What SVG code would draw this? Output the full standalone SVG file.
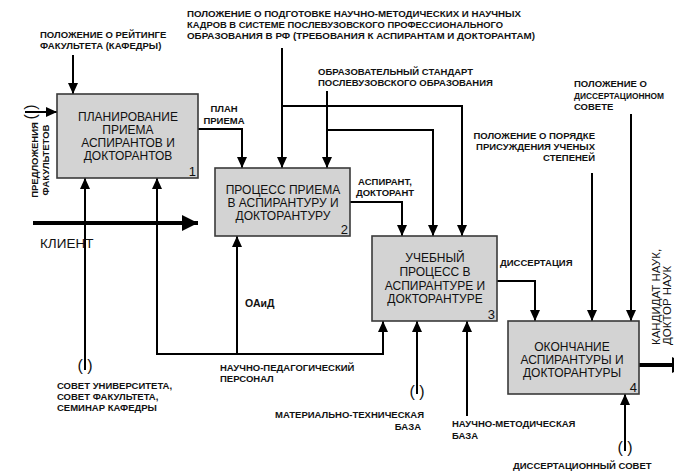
<svg xmlns="http://www.w3.org/2000/svg" width="674" height="473" viewBox="0 0 674 473">
<defs>
<marker id="ah" markerUnits="userSpaceOnUse" markerWidth="11" markerHeight="10" refX="11" refY="5" orient="auto"><path d="M0,0 L11,5 L0,10 z" fill="#000"/></marker>
<marker id="ahb" markerUnits="userSpaceOnUse" markerWidth="16" markerHeight="16" refX="16" refY="8" orient="auto"><path d="M0,0 L16,8 L0,16 z" fill="#000"/></marker>
<style>
.box{fill:#d3d3d3;stroke:#3a3a3a;stroke-width:1.6}
.bt{font-family:"Liberation Sans",Arial,sans-serif;font-size:12px;fill:#111;text-anchor:middle}
.num{font-family:"Liberation Sans",Arial,sans-serif;font-size:13px;fill:#111;text-anchor:end}
.lb{font-family:"Liberation Sans",Arial,sans-serif;font-size:9.5px;font-weight:bold;fill:#111}
.lb.sm{font-size:8.4px}
.lr{font-family:"Liberation Sans",Arial,sans-serif;fill:#111}
.tn{font-family:"Liberation Sans",Arial,sans-serif;font-size:16px;fill:#111;text-anchor:middle}
.w{fill:none;stroke:#000;stroke-width:2}
.wt{fill:none;stroke:#000;stroke-width:4}
</style>
</defs>
<rect width="674" height="473" fill="#fff"/>

<g id="connectors">
<path class="w" d="M73,55 V94" marker-end="url(#ah)"/>
<path class="w" d="M25,112 H57" marker-end="url(#ah)"/>
<path class="w" d="M198,129 H242 V168" marker-end="url(#ah)"/>
<path class="w" d="M282,48 V168" marker-end="url(#ah)"/>
<path class="w" d="M282,106 H462 V236" marker-end="url(#ah)"/>
<path class="w" d="M327,91 V168" marker-end="url(#ah)"/>
<path class="w" d="M327,130 H433 V236" marker-end="url(#ah)"/>
<path class="w" d="M350,202 H402 V236" marker-end="url(#ah)"/>
<path class="w" d="M497,281 H535 V321" marker-end="url(#ah)"/>
<path class="w" d="M592,173 V321" marker-end="url(#ah)"/>
<path class="w" d="M631,114 V321" marker-end="url(#ah)"/>
<path class="wt" d="M639,365 H688" marker-end="url(#ahb)"/>
<path class="wt" d="M33,223 H198" marker-end="url(#ahb)"/>
<path class="w" d="M85,370 V178" marker-end="url(#ah)"/>
<path class="w" d="M237,354 H157 V178" marker-end="url(#ah)"/>
<path class="w" d="M237,354 V236" marker-end="url(#ah)"/>
<path class="w" d="M237,354 H383 V321" marker-end="url(#ah)"/>
<path class="w" d="M417,394 V321" marker-end="url(#ah)"/>
<path class="w" d="M467,416 V321" marker-end="url(#ah)"/>
<path class="w" d="M625,451 V394" marker-end="url(#ah)"/>
</g>

<g id="tunnels">
<text class="tn" transform="translate(31,112) rotate(-90)" y="5">( )</text>
<text class="tn" x="85" y="371">( )</text>
<text class="tn" x="417" y="397">( )</text>
<text class="tn" x="625" y="453">( )</text>
</g>

<g id="n1">
<rect class="box" x="57" y="94" width="141" height="84"/>
<text class="bt" x="128" y="121">ПЛАНИРОВАНИЕ</text>
<text class="bt" x="128" y="134">ПРИЕМА</text>
<text class="bt" x="128" y="147">АСПИРАНТОВ И</text>
<text class="bt" x="128" y="160">ДОКТОРАНТОВ</text>
<text class="num" x="196" y="176">1</text>
</g>
<g id="n2">
<rect class="box" x="215" y="168" width="135" height="68"/>
<text class="bt" x="283" y="194">ПРОЦЕСС ПРИЕМА</text>
<text class="bt" x="283" y="207">В АСПИРАНТУРУ И</text>
<text class="bt" x="283" y="220">ДОКТОРАНТУРУ</text>
<text class="num" x="348" y="234">2</text>
</g>
<g id="n3">
<rect class="box" x="372" y="236" width="125" height="85"/>
<text class="bt" x="435" y="262">УЧЕБНЫЙ</text>
<text class="bt" x="435" y="276">ПРОЦЕСС В</text>
<text class="bt" x="435" y="290">АСПИРАНТУРЕ И</text>
<text class="bt" x="435" y="303">ДОКТОРАНТУРЕ</text>
<text class="num" x="495" y="319">3</text>
</g>
<g id="n4">
<rect class="box" x="508" y="321" width="131" height="73"/>
<text class="bt" x="572" y="351">ОКОНЧАНИЕ</text>
<text class="bt" x="572" y="364">АСПИРАНТУРЫ И</text>
<text class="bt" x="572" y="377">ДОКТОРАНТУРЫ</text>
<text class="num" x="637" y="392">4</text>
</g>

<g id="labels">
<text class="lb" x="40" y="38">ПОЛОЖЕНИЕ О РЕЙТИНГЕ</text>
<text class="lb" x="40" y="49">ФАКУЛЬТЕТА (КАФЕДРЫ)</text>
<text class="lb" x="187" y="17" textLength="334" lengthAdjust="spacingAndGlyphs">ПОЛОЖЕНИЕ О ПОДГОТОВКЕ НАУЧНО-МЕТОДИЧЕСКИХ И НАУЧНЫХ</text>
<text class="lb" x="187" y="28" textLength="316" lengthAdjust="spacingAndGlyphs">КАДРОВ В СИСТЕМЕ ПОСЛЕВУЗОВСКОГО ПРОФЕССИОНАЛЬНОГО</text>
<text class="lb" x="187" y="39" textLength="348" lengthAdjust="spacingAndGlyphs">ОБРАЗОВАНИЯ В РФ (ТРЕБОВАНИЯ К АСПИРАНТАМ И ДОКТОРАНТАМ)</text>
<text class="lb" x="318" y="75">ОБРАЗОВАТЕЛЬНЫЙ СТАНДАРТ</text>
<text class="lb" x="318" y="86">ПОСЛЕВУЗОВСКОГО ОБРАЗОВАНИЯ</text>
<text class="lb" x="224" y="112" text-anchor="middle">ПЛАН</text>
<text class="lb" x="224" y="124" text-anchor="middle">ПРИЕМА</text>
<text class="lb" x="385" y="185" text-anchor="middle">АСПИРАНТ,</text>
<text class="lb" x="385" y="196" text-anchor="middle">ДОКТОРАНТ</text>
<text class="lb" x="500" y="266">ДИССЕРТАЦИЯ</text>
<text class="lb" x="595" y="139" text-anchor="end">ПОЛОЖЕНИЕ О ПОРЯДКЕ</text>
<text class="lb" x="595" y="150" text-anchor="end">ПРИСУЖДЕНИЯ УЧЕНЫХ</text>
<text class="lb" x="595" y="161" text-anchor="end">СТЕПЕНЕЙ</text>
<text class="lb" x="574" y="87">ПОЛОЖЕНИЕ О</text>
<text class="lb sm" x="574" y="99">ДИССЕРТАЦИОННОМ</text>
<text class="lb" x="574" y="110">СОВЕТЕ</text>
<text class="lr" x="40" y="248" font-size="13.5">КЛИЕНТ</text>
<text class="lr" x="245" y="307" font-size="10.5" font-weight="bold">ОАиД</text>
<text class="lb" x="220" y="371">НАУЧНО-ПЕДАГОГИЧЕСКИЙ</text>
<text class="lb" x="220" y="382">ПЕРСОНАЛ</text>
<text class="lb" x="57" y="389">СОВЕТ УНИВЕРСИТЕТА,</text>
<text class="lb" x="57" y="400">СОВЕТ ФАКУЛЬТЕТА,</text>
<text class="lb" x="57" y="411">СЕМИНАР КАФЕДРЫ</text>
<text class="lb" x="424" y="418" text-anchor="end">МАТЕРИАЛЬНО-ТЕХНИЧЕСКАЯ</text>
<text class="lb" x="421" y="430" text-anchor="end">БАЗА</text>
<text class="lb" x="452" y="427">НАУЧНО-МЕТОДИЧЕСКАЯ</text>
<text class="lb" x="452" y="439">БАЗА</text>
<text class="lb" x="513" y="469">ДИССЕРТАЦИОННЫЙ СОВЕТ</text>
<text class="lb" transform="translate(38,160) rotate(-90)" text-anchor="middle">ПРЕДЛОЖЕНИЯ</text>
<text class="lb" transform="translate(49,160) rotate(-90)" text-anchor="middle">ФАКУЛЬТЕТОВ</text>
<text class="lr" transform="translate(660,345) rotate(-90)" font-size="11.5">КАНДИДАТ НАУК,</text>
<text class="lr" transform="translate(671,345) rotate(-90)" font-size="11.5">ДОКТОР НАУК</text>
</g>
</svg>
